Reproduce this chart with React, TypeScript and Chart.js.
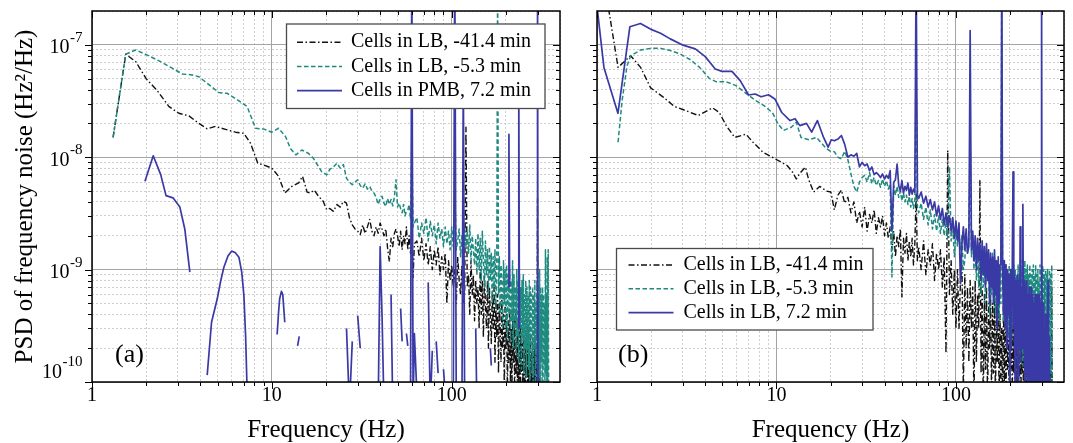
import { useEffect, useRef } from "react";
import { Chart, registerables } from "chart.js";

Chart.register(...registerables);

const FONT = "'Liberation Serif', 'Times New Roman', Times, serif";

// ---------- axis ticks ----------
const xTickValues = [1, 2, 3, 4, 5, 6, 7, 8, 9, 10, 20, 30, 40, 50, 60, 70, 80, 90, 100, 200, 300, 400];
const yTickValues = [
  1e-10, 2e-10, 3e-10, 4e-10, 5e-10, 6e-10, 7e-10, 8e-10, 9e-10,
  1e-9, 2e-9, 3e-9, 4e-9, 5e-9, 6e-9, 7e-9, 8e-9, 9e-9,
  1e-8, 2e-8, 3e-8, 4e-8, 5e-8, 6e-8, 7e-8, 8e-8, 9e-8,
  1e-7, 2e-7,
];

// ---------- legend labels ----------
const labelsA = ["Cells in LB, -41.4 min", "Cells in LB, -5.3 min", "Cells in PMB, 7.2 min"];
const labelsB = ["Cells in LB, -41.4 min", "Cells in LB, -5.3 min", "Cells in LB, 7.2 min"];

// ---------- panel (a) low-frequency parts ----------
const aLB41LowFreq = [1.31, 1.54, 1.75, 2.0, 2.31, 2.68, 3.04, 3.46, 3.93, 4.37, 4.86, 5.53, 6.28, 6.99, 7.61, 8.35, 9.03, 10.0, 10.9, 11.8, 12.9, 14.1, 14.8, 15.7, 16.3, 17.2, 18.2, 19.3, 20.2];
const aLB41LowPsd = [1.5e-8, 8.25e-8, 7.1e-8, 5.0e-8, 3.9e-8, 2.82e-8, 2.46e-8, 2.33e-8, 2.0e-8, 1.79e-8, 1.88e-8, 1.77e-8, 1.67e-8, 1.63e-8, 1.33e-8, 8.85e-9, 8.5e-9, 8.0e-9, 6.76e-9, 4.79e-9, 5.49e-9, 5.9e-9, 6.76e-9, 4.9e-9, 4.8e-9, 5.1e-9, 4.48e-9, 4.05e-9, 3.4e-9];

const aLB5LowFreq = [1.31, 1.54, 1.75, 2.03, 2.36, 2.79, 3.18, 3.6, 3.93, 4.37, 5.07, 5.65, 6.56, 7.29, 8.11, 9.03, 10.0, 10.9, 11.9, 12.7, 13.6, 14.7, 16.0, 17.0, 18.9, 20.2];
const aLB5LowPsd = [1.5e-8, 8.25e-8, 9.0e-8, 8.1e-8, 7.2e-8, 6.2e-8, 5.5e-8, 5.4e-8, 5.2e-8, 4.55e-8, 3.76e-8, 3.7e-8, 3.17e-8, 2.82e-8, 1.81e-8, 1.78e-8, 1.67e-8, 1.81e-8, 1.53e-8, 1.19e-8, 1.05e-8, 1.16e-8, 1.08e-8, 9.8e-9, 7.46e-9, 6.97e-9];

const aPMBLowFreq = [1.97, 2.19, 2.41, 2.58, 2.82, 3.08, 3.28, 3.5, 3.9, 4.37, 4.62, 4.97, 5.2, 5.41, 5.7, 5.97, 6.25, 6.56, 6.8, 6.99, 7.15, 7.29, 9.0, 10.7, 10.9, 11.05, 11.3, 11.5, 11.8, 12.5, 13.9, 14.2, 17.0];
const aPMBLowPsd = [6.1e-9, 1.03e-8, 7.0e-9, 4.55e-9, 4.35e-9, 3.6e-9, 2.3e-9, 9.5e-10, null, 1.15e-10, 3.4e-10, 5.5e-10, 8e-10, 1.05e-9, 1.32e-9, 1.46e-9, 1.42e-9, 1.29e-9, 9.5e-10, 5.9e-10, 2.5e-10, 8e-11, null, 2.65e-10, 4.2e-10, 5.5e-10, 6.4e-10, 6.0e-10, 3.4e-10, null, 2.1e-10, 2.55e-10, null];

// ---------- panel (b) low-frequency parts ----------
const bLB41LowFreq = [1.16, 1.31, 1.54, 1.75, 1.99, 2.35, 2.7, 3.2, 3.67, 4.4, 4.8, 5.25, 5.85, 6.28, 6.76, 7.4, 8.4, 9.48, 10.8, 11.5, 12.3, 12.9, 13.5, 14.5, 15.1, 16.1, 17.4, 19.0, 20.1];
const bLB41LowPsd = [2.1e-7, 6.3e-8, 8.0e-8, 6.3e-8, 4.14e-8, 3.41e-8, 2.83e-8, 2.56e-8, 2.35e-8, 2.75e-8, 2.5e-8, 1.91e-8, 1.5e-8, 1.55e-8, 1.6e-8, 1.36e-8, 1.11e-8, 1.0e-8, 8.9e-9, 8.4e-9, 7.35e-9, 6.4e-9, 7.2e-9, 8.15e-9, 6.35e-9, 4.9e-9, 5.5e-9, 5.0e-9, 4.9e-9];

const bLB5LowFreq = [1.31, 1.38, 1.47, 1.54, 1.75, 1.99, 2.26, 2.56, 2.9, 3.3, 3.73, 4.24, 4.6, 5.23, 5.95, 6.76, 7.68, 8.53, 9.48, 10.2, 10.95, 12.1, 12.9, 13.7, 15.2, 16.7, 19.0, 20.0];
const bLB5LowPsd = [1.36e-8, 3.19e-8, 6.5e-8, 8.0e-8, 9.0e-8, 9.3e-8, 9.3e-8, 8.9e-8, 8.3e-8, 7.4e-8, 6.3e-8, 5.0e-8, 4.7e-8, 4.7e-8, 4.34e-8, 3.7e-8, 3.19e-8, 2.88e-8, 2.5e-8, 1.98e-8, 1.73e-8, 1.85e-8, 2.05e-8, 1.5e-8, 1.43e-8, 1.5e-8, 1.19e-8, 1.13e-8];

const bLB7LowFreq = [1.0, 1.093, 1.308, 1.525, 1.746, 1.985, 2.26, 2.56, 2.98, 3.53, 4.01, 4.56, 4.97, 5.65, 6.28, 6.99, 7.61, 8.21, 9.03, 9.8, 10.7, 11.9, 12.7, 13.5, 14.7, 15.7, 16.9, 18.3, 19.4, 20.2];
const bLB7LowPsd = [2.2e-7, 6.3e-8, 2.46e-8, 1.45e-7, 1.55e-7, 1.38e-7, 1.27e-7, 1.13e-7, 1.0e-7, 9.2e-8, 7.85e-8, 6.1e-8, 5.8e-8, 5.8e-8, 4.8e-8, 3.58e-8, 3.65e-8, 3.45e-8, 3.6e-8, 3.3e-8, 2.5e-8, 2.12e-8, 2.2e-8, 1.91e-8, 2.0e-8, 1.67e-8, 2.12e-8, 1.5e-8, 1.23e-8, 1.43e-8];

// ---------- shared high-frequency grid (Hz) ----------
const hfFreq = [
  21, 22, 23, 24, 25, 26, 27, 28, 29, 30,
  31, 32, 33, 34, 35, 36, 37, 38, 39, 40,
  41, 42, 43, 44, 45, 46, 47, 48, 49, 50,
  51, 52, 53, 54, 55, 56, 57, 58, 59, 60, 61,
  62, 64, 66, 68, 70, 72, 74, 76, 78, 80,
  82, 84, 86, 88, 90, 92, 94, 96, 98, 100,
  102, 104, 106, 108, 110, 112, 114, 116, 118, 120,
  122, 124, 126, 128, 130, 132, 134, 136, 138, 140,
  142, 144, 146, 148, 150, 152, 154, 156, 158, 160,
  162, 164, 166, 168, 170, 172, 174, 176, 178, 180,
  182, 184, 186, 188, 190, 192, 194, 196, 198, 200,
  202, 204, 206, 208, 210, 212, 214, 216, 218, 220,
  222, 224, 226, 228, 230, 232, 234, 236, 238, 240,
  242, 244, 246, 248, 250, 252, 254, 256, 258, 260,
  262, 264, 266, 268, 270, 272, 274, 276, 278, 280,
  282, 284, 286, 288, 290, 292, 294, 296, 298, 300,
  302, 304, 306, 308, 310, 312, 314, 316, 318, 320,
  322, 324, 326, 328, 330, 332, 334, 336, 338, 340,
  342, 344, 346, 348, 350, 352, 354, 356, 358, 360,
  362, 364, 366, 368, 370, 372,
];

// ---------- panel (a) high-frequency parts ----------
const aLB41HfPsd = [
  3.5e-9, 3.3e-9, 3.8e-9, 3.6e-9, 4.05e-9, 3.9e-9, 2.9e-9, 2.5e-9, 2.3e-9, 2.2e-9,
  2.05e-9, 2.5e-9, 2.1e-9, 2.4e-9, 2.8e-9, 2.2e-9, 2.0e-9, 2.4e-9, 2.1e-9, 2.6e-9,
  2.3e-9, 2.0e-9, 2.3e-9, 1.55e-9, 1.18e-9, 1.9e-9, 1.6e-9, 2.1e-9, 2.3e-9, 2.0e-9,
  1.6e-9, 2.2e-9, 1.5e-9, 2.0e-9, 1.7e-9, 2.4e-9, 1.5e-9, 2.0e-9, 1.4e-9, 2.1e-9, 8.5e-10,
  1.7e-9, 1.8e-9, 1.3e-9, 1.9e-9, 1.2e-9, 1.7e-9, 1.1e-9, 1.6e-9, 1.0e-9, 1.5e-9,
  1.1e-9, 1.6e-9, 9e-10, 1.3e-9, 1.0e-9, 1.4e-9, 5e-10, 1.2e-9, 8e-10, 1.1e-9,
  7e-10, 1.0e-9, 5e-10, 1.3e-9, 8e-10, 6e-10, 1.1e-9, 5e-10, 6e-10, 1.85e-8,
  7e-10, 9e-10, 4e-10, 1.2e-9, 6e-10, 9e-10, 3.5e-10, 8e-10, 5e-10, 7e-10,
  3e-10, 1.0e-9, 4e-10, 8e-10, 2.5e-10, 9e-10, 5e-10, 3e-10, 8e-10, 2e-10,
  7e-10, 4e-10, 2.2e-10, 6e-10, 3e-10, 7e-10, 1.5e-10, 5e-10, 2.5e-10, 6e-10,
  1.2e-10, 5e-10, 3e-10, 1.5e-10, 6e-10, 2e-10, 4e-10, 9e-11, 5e-10, 2e-10,
  4e-10, 8e-11, 3.5e-10, 1.5e-10, 4.5e-10, 1e-10, 3e-10, 7e-11, 4e-10, 1.5e-10,
  3.5e-10, 6e-11, 4e-10, 1.2e-10, 2.5e-10, 7e-11, 3.5e-10, 1e-10, 3e-10, 6e-11,
  3e-10, 1.2e-10, 2.2e-10, 5e-11, 3e-10, 9e-11, 2.5e-10, 6e-11, 2e-10, 1.1e-10,
  2.5e-10, 5e-11, 3e-10, 8e-11, 2e-10, 6e-11, 2.4e-10, 1e-10, 1.8e-10, 5e-11,
  2.2e-10, 7e-11, 2e-10, 5e-11, 2.5e-10, 8e-11, 1.8e-10, 6e-11, 2e-10, 4.3e-9,
  6e-11, 1.8e-10, 6e-11, 1.5e-10, 5e-11, null, null, null, null, null,
  null, null, null, null, null, null, null, null, null, null,
  null, null, null, null, null, null, null, null, null, null,
  null, null, null, null, null, null,
];

const aLB5HfPsd = [
  7.8e-9, 8.2e-9, 8.85e-9, 8.0e-9, 8.6e-9, 6.5e-9, 6.0e-9, 5.7e-9, 6.0e-9, 6.3e-9,
  5.6e-9, 5.3e-9, 5.8e-9, 5.2e-9, 5.5e-9, 5.0e-9, 4.8e-9, 4.4e-9, 3.8e-9, 4.3e-9,
  4.5e-9, 3.9e-9, 3.65e-9, 4.3e-9, 3.8e-9, 4.2e-9, 3.7e-9, 4.4e-9, 6.3e-9, 3.6e-9,
  3.9e-9, 3.5e-9, 3.2e-9, 3.8e-9, 3.0e-9, 3.3e-9, 3.4e-9, 3.8e-9, 2.8e-9, 1.5e-8, 2.4e-9,
  2.6e-9, 2.9e-9, 1.9e-9, 2.6e-9, 2.1e-9, 2.9e-9, 1.8e-9, 2.7e-9, 2.0e-9, 2.5e-9,
  1.7e-9, 2.6e-9, 1.9e-9, 2.3e-9, 1.6e-9, 2.4e-9, 1.7e-9, 2.2e-9, 1.5e-9, 2.4e-9,
  1.6e-9, 5.3e-9, 1.5e-9, 1.8e-9, 2.3e-9, 1.3e-9, 2.0e-9, 1.4e-9, 2.4e-9, 1.6e-9,
  2.2e-9, 1.4e-9, 2.5e-9, 1.2e-9, 2.0e-9, 1.5e-9, 1.1e-9, 1.9e-9, 9e-10, 2.1e-9,
  1.0e-9, 1.9e-9, 8e-10, 2.2e-9, 1.2e-9, 7e-10, 1.8e-9, 9e-10, 1.5e-9, 6e-10,
  1.6e-9, 8e-10, 1.4e-9, 5e-10, 1.3e-9, 7e-10, 1.5e-9, 4.5e-10, 1.1e-9, 4e-7,
  6e-10, 1.3e-9, 4e-10, 1.1e-9, 7e-10, 3e-10, 1.2e-9, 5e-10, 1.0e-9, 3e-10,
  1.1e-9, 2.5e-10, 9e-10, 4e-10, 1.0e-9, 2.2e-10, 8e-10, 3.5e-10, 1.2e-9, 2e-10,
  9e-10, 3e-10, 7e-10, 1.8e-10, 1.0e-9, 2.5e-10, 8e-10, 1.5e-10, 9e-10, 3e-10,
  7e-10, 1.3e-10, 8e-10, 2.5e-10, 9e-10, 1.2e-10, 6e-10, 2e-10, 8e-10, 1.1e-10,
  7e-10, 2e-10, 6e-10, 1.3e-10, 8e-10, 1.0e-10, 7e-10, 2.2e-10, 6e-10, 1.2e-10,
  7e-10, 1.0e-10, 6e-10, 2e-10, 8e-10, 9e-11, 5e-10, 1.5e-10, 7e-10, 8e-10,
  2e-10, 6e-10, 1.1e-10, 1.0e-9, 8e-11, 7e-10, 1.5e-10, 6e-10, 9e-11, 7e-10,
  1.0e-10, 6e-10, 1.4e-10, 5e-10, 8e-11, 1.5e-9, 1.2e-10, 6e-10, 9e-11, 1.3e-9,
  1.0e-10, 1.5e-9, 7e-11, null, null, null, null, null, null, null,
  null, null, null, null, null, null,
];

const aPMBHfPsd = [
  null, null, null, null, null, 3e-10, 6e-11, 2.3e-10, null, 3.9e-10,
  2.0e-10, null, null, null, null, null, null, null, 6e-11, 1.6e-9,
  3.8e-10, 6e-11, null, null, null, 6e-10, 6e-11, null, null, null,
  null, 4.5e-10, 2.3e-10, null, null, 2.7e-10, 2.1e-10, null, 6e-11, 6e-7, 6e-11,
  2.7e-10, 8e-11, null, null, null, null, 7.7e-10, 6e-11, 1.9e-10, null,
  2.3e-10, 1.2e-10, null, null, 1.3e-10, 8e-11, null, null, null, 6e-11,
  6e-11, 6e-7, 6e-11, null, null, null, 6e-11, 6e-8, 6e-11, null,
  null, null, null, null, null, null, null, 3e-10, 6e-11, null,
  null, null, null, null, null, null, null, null, null, null,
  null, 2.0e-10, 1.4e-10, null, null, null, null, null, null, null,
  null, null, null, null, null, null, null, null, null, null,
  null, null, 7e-10, 1.6e-8, 7e-10, null, null, null, null, null,
  null, null, null, null, null, null, 3e-10, 5e-8, 3e-10, null,
  null, null, null, null, null, null, null, null, null, null,
  null, null, null, null, null, null, null, null, null, null,
  null, null, null, null, null, null, null, null, 6e-11, 6e-7,
  6e-11, null, null, null, null, null, null, null, null, null,
  null, null, null, null, null, null, null, null, null, null,
  null, null, null, null, null, null, null, null, null, null,
  null, null, null, null, null, null,
];

// ---------- panel (b) high-frequency parts ----------
const bLB41HfPsd = [
  3.4e-9, 4.6e-9, 5.1e-9, 3.9e-9, 4.4e-9, 3.2e-9, 4.0e-9, 2.6e-9, 3.3e-9, 2.4e-9,
  3.6e-9, 2.2e-9, 3.1e-9, 2.6e-9, 3.4e-9, 2.1e-9, 2.9e-9, 2.4e-9, 3.0e-9, 2.0e-9,
  2.6e-9, 1.9e-9, 2.4e-9, 1.5e-9, 2.2e-9, 1.3e-9, 2.0e-9, 1.6e-9, 2.3e-9, 5.7e-10,
  1.9e-9, 1.4e-9, 2.1e-9, 1.2e-9, 1.8e-9, 1.3e-9, 1.9e-9, 1.1e-9, 1.7e-9, 4.7e-9, 1.2e-9,
  1.6e-9, 1.0e-9, 1.8e-9, 9e-10, 1.5e-9, 1.1e-9, 1.7e-9, 8e-10, 1.4e-9, 1.0e-9,
  1.5e-9, 7e-10, 1.3e-9, 1.8e-10, 1.15e-8, 6e-10, 1.2e-9, 4e-10, 1.0e-9, 3e-10,
  1.0e-9, 3e-10, 8e-10, 1.1e-9, 8e-11, 9e-10, 2e-10, 7e-10, 1.5e-10, 8e-10,
  3e-10, 7e-10, 6e-11, 8e-10, 1.5e-10, 6e-10, 3e-10, 6.2e-9, 1.2e-10, 7e-10,
  6e-11, 6e-10, 1.3e-10, 7e-10, 6e-11, 5e-10, 2e-10, 6e-10, 7e-11, 5e-10,
  1.2e-10, 6e-10, 6e-11, 5e-10, 1.5e-10, 6e-10, 6e-11, 4e-10, 1.0e-10, 3e-10,
  6e-11, 5e-10, 1.0e-10, 4e-10, 6e-11, 4.5e-10, 1.3e-10, 3e-10, 6e-11, 5e-10,
  1.3e-10, 4e-10, 7e-11, 3e-10, 1.2e-10, 4e-10, 6e-11, 3.5e-10, 1.0e-10, 3e-10,
  6e-11, 4e-10, 1.1e-10, 3e-10, 6e-11, 3.5e-10, 1.2e-10, 2.5e-10, 6e-11, 3e-10,
  1e-10, 2.5e-10, 6e-11, 3e-10, 1.1e-10, 2e-10, 6e-11, 2.5e-10, 1e-10, 2e-10,
  6e-11, 2.2e-10, 1e-10, 2e-10, 6e-11, 1.8e-10, 7e-11, 2e-10, 6e-11, 1.5e-10,
  6e-11, 1.7e-10, 7e-11, 2e-10, 6e-11, 1.6e-10, 6e-11, 1.5e-10, 6e-11, 1.8e-10,
  6e-11, 1.5e-10, 6e-11, 1.7e-10, 6e-11, 1.4e-10, 6e-11, 1.6e-10, 6e-11, 1.3e-10,
  6e-11, 1.5e-10, 6e-11, 1.2e-10, 6e-11, 1.4e-10, 6e-11, 1.2e-10, 6e-11, 6e-11,
  7e-10, 6e-11, null, null, null, null, null, null, null, null,
  null, null, null, null, null, null,
];

const bLB5HfPsd = [
  1.12e-8, 1.0e-8, 9.7e-9, 1.13e-8, 9.5e-9, 7.1e-9, 5.5e-9, 4.9e-9, 6.0e-9, 6.6e-9,
  6.9e-9, 6.0e-9, 7.3e-9, 5.8e-9, 6.6e-9, 5.6e-9, 6.2e-9, 5.4e-9, 6.4e-9, 5.5e-9,
  6.2e-9, 5.2e-9, 5.8e-9, 8.6e-10, 5.6e-9, 4.6e-9, 5.5e-9, 4.4e-9, 5.0e-9, 4.1e-9,
  4.8e-9, 4.0e-9, 4.6e-9, 3.8e-9, 4.5e-9, 3.6e-9, 4.3e-9, 3.5e-9, 4.0e-9, 4.5e-8, 3.6e-9,
  3.2e-9, 3.9e-9, 2.8e-9, 3.6e-9, 2.5e-9, 3.4e-9, 2.3e-9, 3.1e-9, 2.2e-9, 3.0e-9,
  2.1e-9, 2.8e-9, 2.0e-9, 2.7e-9, 1.9e-9, 8.2e-9, 1.8e-9, 2.5e-9, 1.3e-9, 2.3e-9,
  1.6e-9, 2.2e-9, 1.5e-9, 2.0e-9, 1.0e-9, 1.2e-9, 2.1e-9, 1.4e-9, 1.9e-9, 1.73e-8,
  1.3e-9, 2.0e-9, 1.0e-9, 1.8e-9, 8e-10, 1.7e-9, 7e-10, 1.6e-9, 6e-10, 1.5e-9,
  7e-10, 1.6e-9, 5e-10, 1.4e-9, 8e-10, 1.3e-9, 4e-10, 1.2e-9, 6e-10, 1.4e-9,
  5e-10, 1.3e-9, 4e-10, 1.2e-9, 6e-10, 1.1e-9, 3.5e-10, 1.0e-9, 5e-10, 4e-7,
  8e-10, 3.5e-10, 1.2e-9, 3e-10, 1.1e-9, 4e-10, 1.0e-9, 2.5e-10, 1.1e-9, 3e-10,
  1.0e-9, 2.5e-10, 9e-10, 3e-10, 1.1e-9, 2e-10, 1.0e-9, 3e-10, 9e-10, 1.8e-10,
  1.1e-9, 2e-10, 9e-10, 1.5e-10, 1.0e-9, 2.5e-10, 1.2e-9, 1.4e-10, 1.0e-9, 2e-10,
  1.2e-9, 1.3e-10, 1.0e-9, 2e-10, 1.1e-9, 1.2e-10, 9e-10, 1.8e-10, 1.1e-9, 1.3e-10,
  9e-10, 1.1e-10, 1.0e-9, 2e-10, 1.1e-9, 1.2e-10, 9e-10, 1.0e-10, 1.1e-9, 1.5e-10,
  9e-10, 1.2e-10, 1.0e-9, 1.0e-10, 8e-10, 2e-10, 1.1e-9, 1.1e-10, 9e-10, 1.0e-9,
  2e-10, 1.1e-9, 1.1e-10, 1.0e-9, 1.5e-10, 9e-10, 1.2e-10, 1.0e-9, 1.0e-10, 9e-10,
  1.0e-10, 1.0e-9, 1.2e-10, 8e-10, 1.1e-10, 1.0e-9, 1.0e-10, 9e-10, 1.2e-10, 8e-10,
  1.1e-9, 6e-11, null, null, null, null, null, null, null, null,
  null, null, null, null, null, null,
];

const bLB7HfPsd = [
  1.4e-8, 1.45e-8, 1.56e-8, 1.3e-8, 1.0e-8, 1.05e-8, 1.02e-8, 1.08e-8, 8.2e-9, 9.0e-9,
  8.4e-9, 8.7e-9, 7.6e-9, 8.2e-9, 7.0e-9, 7.3e-9, 7.0e-9, 6.6e-9, 7.1e-9, 6.4e-9,
  6.9e-9, 6.5e-9, 7.6e-9, 2.2e-9, 6.0e-9, 6.3e-9, 8.7e-9, 5.6e-9, 5.0e-9, 6.2e-9,
  4.8e-9, 5.5e-9, 5.1e-9, 5.9e-9, 4.6e-9, 5.4e-9, 4.7e-9, 5.2e-9, 4.9e-9, 5e-7, 4.6e-9,
  4.3e-9, 4.9e-9, 3.9e-9, 4.5e-9, 3.6e-9, 4.2e-9, 3.4e-9, 4.0e-9, 3.0e-9, 3.7e-9,
  2.8e-9, 3.5e-9, 2.5e-9, 3.2e-9, 2.4e-9, 3.0e-9, 2.2e-9, 2.9e-9, 1.9e-9, 2.7e-9,
  1.8e-9, 2.6e-9, 7.5e-10, 1.7e-9, 2.4e-9, 1.5e-9, 2.3e-9, 1.4e-9, 1.6e-9, 1.34e-7,
  1.5e-9, 2.2e-9, 1.2e-9, 2.0e-9, 1.0e-9, 1.9e-9, 1.2e-9, 1.7e-9, 8e-10, 1.8e-9,
  9e-10, 1.6e-9, 7e-10, 1.7e-9, 8e-10, 1.5e-9, 5e-10, 1.4e-9, 7e-10, 1.3e-9,
  5e-10, 1.5e-9, 6e-10, 1.2e-9, 3e-10, 1.3e-9, 5e-10, 1.1e-9, 1.2e-9, 5e-7,
  1.0e-9, 4e-10, 1.2e-9, 3e-10, 1.1e-9, 2e-10, 1.0e-9, 4e-10, 9e-10, 8e-11,
  1.0e-9, 2e-10, 1.1e-9, 7.4e-9, 3e-10, 9e-10, 5e-11, 8e-10, 2e-10, 9e-10,
  1e-10, 8e-10, 2e-10, 2.4e-9, 1.5e-10, 7e-10, 2e-10, 3.8e-9, 2e-10, 8e-10,
  6e-11, 7e-10, 1.2e-10, 8e-10, 5e-11, 6e-10, 1.5e-10, 7e-10, 5e-11, 6e-10,
  1e-10, 7e-10, 5e-11, 6e-10, 1.2e-10, 5e-10, 5e-11, 6e-10, 1.1e-10, 5e-10,
  5e-11, 6e-10, 1e-10, 5e-10, 5e-11, 6e-10, 8e-11, 5e-10, 1e-10, 5e-7,
  8e-11, 4e-10, 5e-11, 5e-10, 1e-10, 3e-10, 5e-11, 4e-10, 7e-11, 4e-10,
  5e-11, 3e-10, 8e-10, 5e-11, 2.5e-10, 5e-11, null, null, null, null,
  null, null, null, null, null, null, null, null, null, null,
  null, null, null, null, null, null,
];

// ---------- styles ----------
const seriesStyles = [
  { color: "#111111", dash: [6, 2.5, 1.5, 2.5], width: 1.4 },
  { color: "#1f8a80", dash: [4.5, 2.5], width: 1.5 },
  { color: "#3a3aa6", dash: [] as number[], width: 1.7 },
];

function isDecade(v: number) {
  const l = Math.log10(v);
  return Math.abs(l - Math.round(l)) < 1e-9;
}

function buildSeries(lowF: number[], lowV: (number | null)[], hfV: (number | null)[]) {
  const pts: { x: number; y: number | null }[] = [];
  lowF.forEach((f, i) => pts.push({ x: f, y: lowV[i] ?? null }));
  hfFreq.forEach((f, i) => pts.push({ x: f, y: hfV[i] ?? null }));
  return pts;
}

function makeDatasets(labels: string[], series: { x: number; y: number | null }[][]) {
  return series.map((data, i) => ({
    label: labels[i],
    data,
    borderColor: seriesStyles[i].color,
    borderWidth: seriesStyles[i].width,
    borderDash: seriesStyles[i].dash,
    borderJoinStyle: "round" as const,
    pointRadius: 0,
    pointHoverRadius: 0,
    fill: false,
    tension: 0,
    spanGaps: false,
    clip: 0,
    order: 3 - i,
  }));
}

type Decor = {
  letter: string;
  letterX: number;
  letterY: number;
  yLabels: boolean;
  legend: { x: number; y: number; w: number; h: number; row0: number; rowGap: number; swX: number; swW: number; textX: number };
};

function decorPlugin(cfg: Decor) {
  return {
    id: "decor",
    afterDatasetsDraw(chart: any) {
      const { ctx, chartArea } = chart;
      const { left, right, top, bottom } = chartArea;
      const xs = chart.scales.x;
      const ys = chart.scales.y;
      ctx.save();
      ctx.setLineDash([]);
      ctx.strokeStyle = "#000";
      ctx.lineWidth = 1;
      ctx.beginPath();
      for (const v of xTickValues) {
        if (v >= xs.max) continue;
        const px = Math.round(xs.getPixelForValue(v)) + 0.5;
        const len = isDecade(v) ? 7 : 4;
        ctx.moveTo(px, bottom);
        ctx.lineTo(px, bottom + len);
        ctx.moveTo(px, top);
        ctx.lineTo(px, top + len);
      }
      for (const v of yTickValues) {
        if (v >= ys.max) continue;
        const py = Math.round(ys.getPixelForValue(v)) + 0.5;
        const len = isDecade(v) ? 7 : 4;
        ctx.moveTo(left, py);
        ctx.lineTo(left - len, py);
        ctx.moveTo(right, py);
        ctx.lineTo(right - len, py);
      }
      ctx.stroke();
      ctx.lineWidth = 1.5;
      ctx.strokeRect(left, top, right - left, bottom - top);

      // y tick labels: 10 with a raised exponent
      if (cfg.yLabels) {
        ctx.fillStyle = "#000";
        ctx.textAlign = "left";
        ctx.textBaseline = "alphabetic";
        for (const v of yTickValues) {
          if (!isDecade(v)) continue;
          const exp = String(Math.round(Math.log10(v)));
          let py = ys.getPixelForValue(v);
          if (v <= ys.min) py -= 13;
          ctx.font = `20px ${FONT}`;
          const wBase = ctx.measureText("10").width;
          ctx.font = `15px ${FONT}`;
          const wExp = ctx.measureText(exp).width;
          const xEnd = left - 10;
          const x0 = xEnd - wExp - wBase;
          ctx.font = `20px ${FONT}`;
          ctx.fillText("10", x0, py + 8.5);
          ctx.font = `15px ${FONT}`;
          ctx.fillText(exp, x0 + wBase + 0.5, py - 3);
        }
      }

      // panel letter
      ctx.fillStyle = "#000";
      ctx.font = `26px ${FONT}`;
      ctx.textAlign = "left";
      ctx.textBaseline = "alphabetic";
      ctx.fillText(cfg.letter, cfg.letterX, cfg.letterY);

      // legend
      const lg = cfg.legend;
      ctx.fillStyle = "#fff";
      ctx.fillRect(lg.x, lg.y, lg.w, lg.h);
      ctx.strokeStyle = "#4a4a4a";
      ctx.lineWidth = 1.3;
      ctx.strokeRect(lg.x, lg.y, lg.w, lg.h);
      chart.data.datasets.forEach((ds: any, i: number) => {
        const yy = lg.row0 + i * lg.rowGap;
        ctx.setLineDash(ds.borderDash || []);
        ctx.strokeStyle = ds.borderColor;
        ctx.lineWidth = ds.borderWidth;
        ctx.beginPath();
        ctx.moveTo(lg.swX, yy);
        ctx.lineTo(lg.swX + lg.swW, yy);
        ctx.stroke();
        ctx.setLineDash([]);
        ctx.fillStyle = "#000";
        ctx.font = `20px ${FONT}`;
        ctx.textBaseline = "middle";
        ctx.fillText(ds.label, lg.textX, yy);
      });
      ctx.restore();
    },
  };
}

const gridColor = (c: any) => (c.tick && isDecade(c.tick.value) ? "#a4a4a4" : "#cfcfcf");
const gridDash = (c: any) => (c.tick && !isDecade(c.tick.value) ? [2, 2] : []);

function makeConfig(opts: {
  datasets: any[];
  yWidth: number;
  padRight: number;
  showY: boolean;
  decor: Decor;
}) {
  return {
    type: "line" as const,
    data: { datasets: opts.datasets },
    options: {
      animation: false as const,
      responsive: false,
      devicePixelRatio: 1,
      events: [] as any[],
      layout: { padding: { top: 11, right: opts.padRight, left: 0, bottom: 0 } },
      plugins: { legend: { display: false }, tooltip: { enabled: false } },
      scales: {
        x: {
          type: "logarithmic" as const,
          position: "bottom" as const,
          min: 1,
          max: 400,
          afterBuildTicks: (s: any) => {
            s.ticks = xTickValues.map((v) => ({ value: v, major: false }));
          },
          afterFit: (s: any) => {
            s.height = 61;
          },
          ticks: {
            autoSkip: false,
            maxRotation: 0,
            minRotation: 0,
            padding: 2,
            color: "#000",
            font: { family: FONT, size: 20 },
            callback: (v: any) => (isDecade(Number(v)) ? String(Number(v)) : ""),
          },
          grid: { drawTicks: false, color: gridColor, lineWidth: 1 },
          border: { display: false, dash: gridDash },
          title: {
            display: true,
            text: "Frequency (Hz)",
            color: "#000",
            font: { family: FONT, size: 25, lineHeight: 1 },
            padding: { top: 0, bottom: 0 },
          },
        },
        y: {
          type: "logarithmic" as const,
          position: "left" as const,
          min: 1e-10,
          max: 2e-7,
          afterBuildTicks: (s: any) => {
            s.ticks = yTickValues.map((v) => ({ value: v, major: false }));
          },
          afterFit: (s: any) => {
            s.width = opts.yWidth;
          },
          ticks: { display: false, autoSkip: false },
          grid: { drawTicks: false, color: gridColor, lineWidth: 1 },
          border: { display: false, dash: gridDash },
          title: {
            display: opts.showY,
            text: "PSD of frequency noise (Hz\u00B2/Hz)",
            color: "#000",
            font: { family: FONT, size: 25, lineHeight: 1 },
            padding: { top: 12.5, bottom: 0 },
          },
        },
      },
    },
    plugins: [decorPlugin(opts.decor)],
  };
}

export default function App() {
  const refA = useRef<HTMLCanvasElement>(null);
  const refB = useRef<HTMLCanvasElement>(null);

  useEffect(() => {
    const dsA = makeDatasets(labelsA, [
      buildSeries(aLB41LowFreq, aLB41LowPsd, aLB41HfPsd),
      buildSeries(aLB5LowFreq, aLB5LowPsd, aLB5HfPsd),
      buildSeries(aPMBLowFreq, aPMBLowPsd, aPMBHfPsd),
    ]);
    const dsB = makeDatasets(labelsB, [
      buildSeries(bLB41LowFreq, bLB41LowPsd, bLB41HfPsd),
      buildSeries(bLB5LowFreq, bLB5LowPsd, bLB5HfPsd),
      buildSeries(bLB7LowFreq, bLB7LowPsd, bLB7HfPsd),
    ]);
    const chartA = new Chart(
      refA.current as HTMLCanvasElement,
      makeConfig({
        datasets: dsA,
        yWidth: 92,
        padRight: 15,
        showY: true,
        decor: {
          letter: "(a)",
          letterX: 115,
          letterY: 362,
          yLabels: true,
          legend: { x: 286.5, y: 24, w: 258.5, h: 84.5, row0: 42.2, rowGap: 24.2, swX: 297, swW: 45, textX: 351 },
        },
      }) as any
    );
    const chartB = new Chart(
      refB.current as HTMLCanvasElement,
      makeConfig({
        datasets: dsB,
        yWidth: 20,
        padRight: 9,
        showY: false,
        decor: {
          letter: "(b)",
          letterX: 41,
          letterY: 362,
          yLabels: false,
          legend: { x: 39.5, y: 248.5, w: 256.5, h: 81.5, row0: 265, rowGap: 23.8, swX: 51.5, swW: 45, textX: 106.5 },
        },
      }) as any
    );
    return () => {
      chartA.destroy();
      chartB.destroy();
    };
  }, []);

  return (
    <div style={{ position: "absolute", left: 0, top: 0, width: 1073, height: 443, background: "#fff", overflow: "hidden" }}>
      <canvas ref={refA} width={575} height={443} style={{ position: "absolute", left: 0, top: 0, width: 575, height: 443 }} />
      <canvas ref={refB} width={496} height={443} style={{ position: "absolute", left: 577, top: 0, width: 496, height: 443 }} />
    </div>
  );
}
